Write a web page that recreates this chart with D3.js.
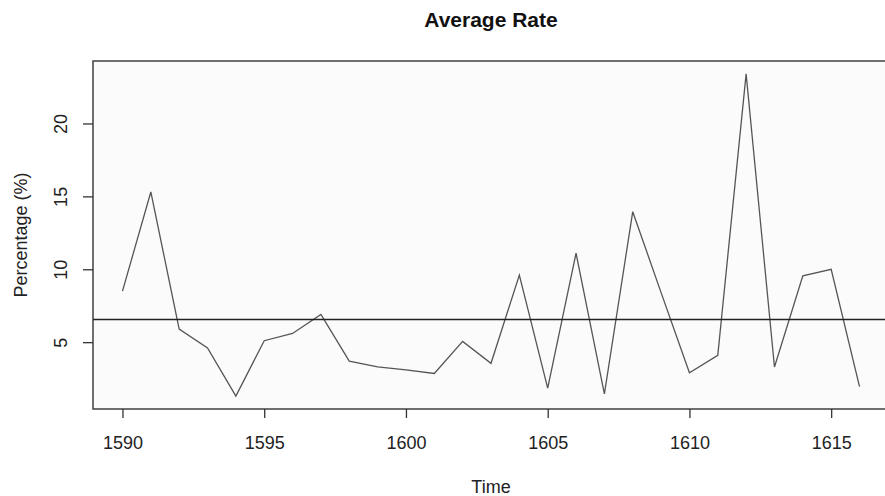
<!DOCTYPE html>
<html>
<head>
<meta charset="utf-8">
<script src="https://cdn.jsdelivr.net/npm/d3@7"></script>
<style>
    body { margin: 0; background: #ffffff; }
    svg { display: block; font-family: "Liberation Sans", Arial, sans-serif; }
</style>
</head>
<body>
<div id="chart"></div>
<script>
// data
var years = [1590, 1591, 1592, 1593, 1594, 1595, 1596, 1597, 1598, 1599,
    1600, 1601, 1602, 1603, 1604, 1605, 1606, 1607, 1608, 1609,
    1610, 1611, 1612, 1613, 1614, 1615, 1616];
var rates = [8.5, 15.3, 5.9, 4.6, 1.3, 5.1, 5.6, 6.9, 3.7, 3.3,
    3.1, 2.85, 5.05, 3.55, 9.6, 1.85, 11.1, 1.45, 13.95, 8.4,
    2.9, 4.1, 23.4, 3.3, 9.55, 10.0, 1.95];
var meanRate = 6.55;
var xTicks = [1590, 1595, 1600, 1605, 1610, 1615];
var yTicks = [5, 10, 15, 20];

generateChart();

function generateChart() {
    // set the dimensions and margins of the graph
    var margin = { top: 61, right: -4, bottom: 87, left: 93 },
        fullWidth = 885, fullHeight = 496,
        width = fullWidth - margin.left - margin.right,
        height = fullHeight - margin.top - margin.bottom;

    var svg = d3.select("#chart")
        .append("svg")
        .attr("width", fullWidth)
        .attr("height", fullHeight);

    var g = svg.append("g")
        .attr("transform", "translate(" + margin.left + "," + margin.top + ")");

    // R style 4% padding on both scales
    var xExt = d3.extent(years), xPad = (xExt[1] - xExt[0]) * 0.04;
    var yExt = d3.extent(rates), yPad = (yExt[1] - yExt[0]) * 0.04;

    var x = d3.scaleLinear()
        .domain([xExt[0] - xPad, xExt[1] + xPad])
        .range([0, width]);
    var y = d3.scaleLinear()
        .domain([yExt[0] - yPad, yExt[1] + yPad])
        .range([height, 0]);

    // plot background
    g.append("rect")
        .attr("width", width)
        .attr("height", height)
        .attr("fill", "#fbfbfb");

    // X axis
    var xAxis = g.append("g")
        .attr("transform", "translate(0," + height + ")")
        .call(d3.axisBottom(x).tickValues(xTicks).tickFormat(d3.format("d")).tickSize(9).tickPadding(18));
    xAxis.select(".domain").remove();
    xAxis.selectAll("line").attr("stroke", "#333").attr("stroke-width", 1.3);
    xAxis.selectAll("text").style("font-size", "18px").attr("fill", "#222");

    // Y axis
    var yAxis = g.append("g")
        .call(d3.axisLeft(y).tickValues(yTicks).tickSize(10).tickPadding(0));
    yAxis.select(".domain").remove();
    yAxis.selectAll("line").attr("stroke", "#333").attr("stroke-width", 1.3);
    yAxis.selectAll("text")
        .attr("x", null)
        .attr("transform", "translate(-32,0) rotate(-90)")
        .attr("dy", "0.35em")
        .style("text-anchor", "middle")
        .style("font-size", "18px")
        .attr("fill", "#222");

    // line
    var line = d3.line()
        .x(function (d, i) { return x(years[i]); })
        .y(function (d) { return y(d); });
    g.append("path")
        .datum(rates)
        .attr("d", line)
        .attr("fill", "none")
        .attr("stroke", "#555")
        .attr("stroke-width", 1.3);

    // mean line
    g.append("line")
        .attr("x1", 0)
        .attr("x2", width)
        .attr("y1", y(meanRate))
        .attr("y2", y(meanRate))
        .attr("stroke", "#222")
        .attr("stroke-width", 1.4);

    // box
    g.append("rect")
        .attr("width", width)
        .attr("height", height)
        .attr("fill", "none")
        .attr("stroke", "#333")
        .attr("stroke-width", 1.4);

    // titles
    svg.append("text")
        .attr("x", margin.left + width / 2)
        .attr("y", 27)
        .attr("text-anchor", "middle")
        .style("font-size", "21px")
        .style("font-weight", "bold")
        .attr("fill", "#111")
        .text("Average Rate");

    svg.append("text")
        .attr("x", margin.left + width / 2)
        .attr("y", 493)
        .attr("text-anchor", "middle")
        .style("font-size", "18px")
        .attr("fill", "#222")
        .text("Time");

    svg.append("text")
        .attr("transform", "rotate(-90)")
        .attr("x", -(margin.top + height / 2))
        .attr("y", 27)
        .attr("text-anchor", "middle")
        .style("font-size", "18px")
        .attr("fill", "#222")
        .text("Percentage (%)");
}
</script>
</body>
</html>
